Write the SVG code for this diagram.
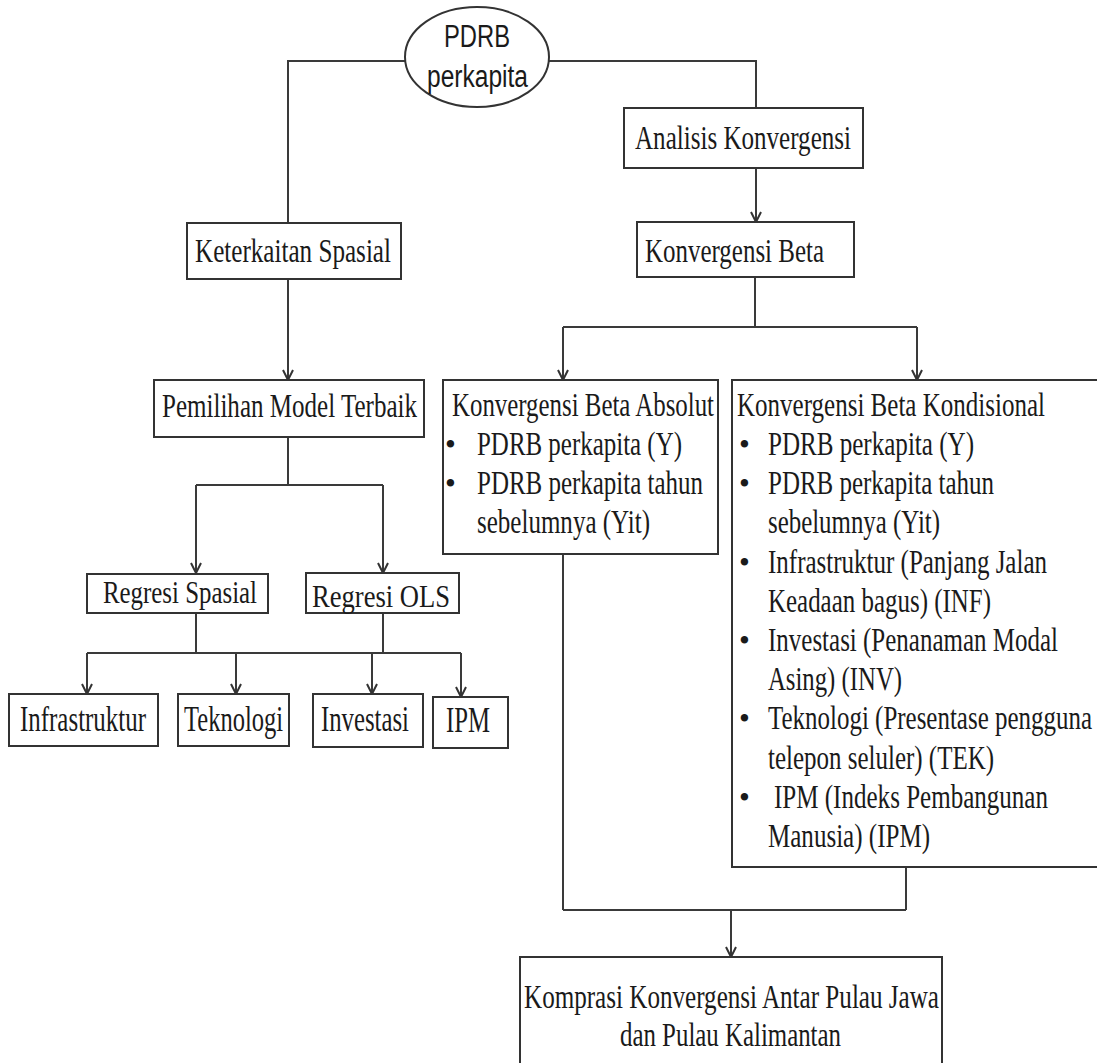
<svg xmlns="http://www.w3.org/2000/svg" width="1097" height="1063" viewBox="0 0 1097 1063">
<defs>
<style>
.box{fill:#fff;stroke:#333;stroke-width:2}
.t{font-family:"Liberation Serif","Times New Roman",serif;font-size:33px;fill:#1a1a1a}
.big{font-size:35px}
.sm{font-size:31px}
.s{font-family:"Liberation Sans",Arial,sans-serif;font-size:31px;fill:#1a1a1a}
.b{font-family:"Liberation Serif","Times New Roman",serif;font-size:31px;fill:#1a1a1a}
.c{fill:none;stroke:#3a3a3a;stroke-width:2}
</style>
<marker id="arr" markerUnits="userSpaceOnUse" viewBox="0 0 12 12" refX="11" refY="6" markerWidth="12" markerHeight="12" orient="auto">
<path d="M1,1 L11,6 L1,11" fill="none" stroke="#333" stroke-width="2"/>
</marker>
</defs>
<rect width="1097" height="1063" fill="#fff"/>
<g id="connectors">
<path class="c" d="M405,61 H288 V223"/>
<path class="c" d="M549,61 H756 V108"/>
<path class="c" d="M756,168 V222" marker-end="url(#arr)"/>
<path class="c" d="M288,279 V380" marker-end="url(#arr)"/>
<path class="c" d="M288,437 V485 M196,485 H383"/>
<path class="c" d="M196,485 V573" marker-end="url(#arr)"/>
<path class="c" d="M383,485 V573" marker-end="url(#arr)"/>
<path class="c" d="M196,613 V653 M383,613 V653 M87,653 H461"/>
<path class="c" d="M87,653 V694" marker-end="url(#arr)"/>
<path class="c" d="M236,653 V694" marker-end="url(#arr)"/>
<path class="c" d="M372,653 V694" marker-end="url(#arr)"/>
<path class="c" d="M461,653 V697" marker-end="url(#arr)"/>
<path class="c" d="M755,277 V327 M563,327 H917"/>
<path class="c" d="M563,327 V380" marker-end="url(#arr)"/>
<path class="c" d="M917,327 V380" marker-end="url(#arr)"/>
<path class="c" d="M563,554 V910 M906,867 V910 M563,910 H906"/>
<path class="c" d="M731,910 V957" marker-end="url(#arr)"/>
</g>
<g id="n-pdrb">
<ellipse cx="477" cy="57" rx="72" ry="50" class="box"/>
<text class="s" x="444" y="47" textLength="66" lengthAdjust="spacingAndGlyphs">PDRB</text>
<text class="s" x="427" y="87" textLength="101" lengthAdjust="spacingAndGlyphs">perkapita</text>
</g>
<g id="n-analisis">
<rect class="box" x="624" y="108" width="239" height="60"/>
<text class="t" x="635" y="149" textLength="216" lengthAdjust="spacingAndGlyphs">Analisis Konvergensi</text>
</g>
<g id="n-beta">
<rect class="box" x="637" y="222" width="217" height="55"/>
<text class="t" x="645" y="262" textLength="179" lengthAdjust="spacingAndGlyphs">Konvergensi Beta</text>
</g>
<g id="n-keterkaitan">
<rect class="box" x="187" y="223" width="214" height="56"/>
<text class="t" x="195" y="262" textLength="196" lengthAdjust="spacingAndGlyphs">Keterkaitan Spasial</text>
</g>
<g id="n-pemilihan">
<rect class="box" x="154" y="380" width="270" height="57"/>
<text class="t" x="162" y="417" textLength="255" lengthAdjust="spacingAndGlyphs">Pemilihan Model Terbaik</text>
</g>
<g id="n-spasial">
<rect class="box" x="87" y="574" width="181" height="39"/>
<text class="t sm" x="103" y="603" textLength="154" lengthAdjust="spacingAndGlyphs">Regresi Spasial</text>
</g>
<g id="n-ols">
<rect class="box" x="306" y="573" width="153" height="40"/>
<text class="t sm" x="312" y="607" textLength="138" lengthAdjust="spacingAndGlyphs">Regresi OLS</text>
</g>
<g id="n-infrastruktur">
<rect class="box" x="9" y="694" width="149" height="52"/>
<text class="t big" x="20" y="731" textLength="126" lengthAdjust="spacingAndGlyphs">Infrastruktur</text>
</g>
<g id="n-teknologi">
<rect class="box" x="178" y="694" width="111" height="52"/>
<text class="t big" x="184" y="731" textLength="99" lengthAdjust="spacingAndGlyphs">Teknologi</text>
</g>
<g id="n-investasi">
<rect class="box" x="313" y="694" width="110" height="53"/>
<text class="t big" x="321" y="731" textLength="88" lengthAdjust="spacingAndGlyphs">Investasi</text>
</g>
<g id="n-ipm">
<rect class="box" x="433" y="697" width="75" height="51"/>
<text class="t big" x="446" y="732" textLength="44" lengthAdjust="spacingAndGlyphs">IPM</text>
</g>
<g id="n-absolut">
<rect class="box" x="443" y="380" width="275" height="174"/>
<text class="t" x="452" y="416" textLength="262" lengthAdjust="spacingAndGlyphs">Konvergensi Beta Absolut</text>
<text class="b" x="445" y="455">•</text>
<text class="t" x="477" y="455" textLength="205" lengthAdjust="spacingAndGlyphs">PDRB perkapita (Y)</text>
<text class="b" x="445" y="494">•</text>
<text class="t" x="477" y="494" textLength="226" lengthAdjust="spacingAndGlyphs">PDRB perkapita tahun</text>
<text class="t" x="477" y="533" textLength="173" lengthAdjust="spacingAndGlyphs">sebelumnya (Yit)</text>
</g>
<g id="n-kondisional">
<rect class="box" x="732" y="380" width="400" height="487"/>
<text class="t" x="737" y="416" textLength="308" lengthAdjust="spacingAndGlyphs">Konvergensi Beta Kondisional</text>
<text class="b" x="739" y="455">•</text>
<text class="t" x="768" y="455" textLength="206" lengthAdjust="spacingAndGlyphs">PDRB perkapita (Y)</text>
<text class="b" x="739" y="494">•</text>
<text class="t" x="768" y="494" textLength="226" lengthAdjust="spacingAndGlyphs">PDRB perkapita tahun</text>
<text class="t" x="768" y="533" textLength="172" lengthAdjust="spacingAndGlyphs">sebelumnya (Yit)</text>
<text class="b" x="739" y="573">•</text>
<text class="t" x="768" y="573" textLength="279" lengthAdjust="spacingAndGlyphs">Infrastruktur (Panjang Jalan</text>
<text class="t" x="768" y="612" textLength="223" lengthAdjust="spacingAndGlyphs">Keadaan bagus) (INF)</text>
<text class="b" x="739" y="651">•</text>
<text class="t" x="768" y="651" textLength="290" lengthAdjust="spacingAndGlyphs">Investasi (Penanaman Modal</text>
<text class="t" x="768" y="690" textLength="134" lengthAdjust="spacingAndGlyphs">Asing) (INV)</text>
<text class="b" x="739" y="729">•</text>
<text class="t" x="768" y="729" textLength="324" lengthAdjust="spacingAndGlyphs">Teknologi (Presentase pengguna</text>
<text class="t" x="768" y="769" textLength="226" lengthAdjust="spacingAndGlyphs">telepon seluler) (TEK)</text>
<text class="b" x="739" y="808">•</text>
<text class="t" x="774" y="808" textLength="274" lengthAdjust="spacingAndGlyphs">IPM (Indeks Pembangunan</text>
<text class="t" x="768" y="847" textLength="162" lengthAdjust="spacingAndGlyphs">Manusia) (IPM)</text>
</g>
<g id="n-komprasi">
<rect class="box" x="520" y="957" width="422" height="120"/>
<text class="t" x="524" y="1008" textLength="415" lengthAdjust="spacingAndGlyphs">Komprasi Konvergensi Antar Pulau Jawa</text>
<text class="t" x="620" y="1046" textLength="221" lengthAdjust="spacingAndGlyphs">dan Pulau Kalimantan</text>
</g>
</svg>
